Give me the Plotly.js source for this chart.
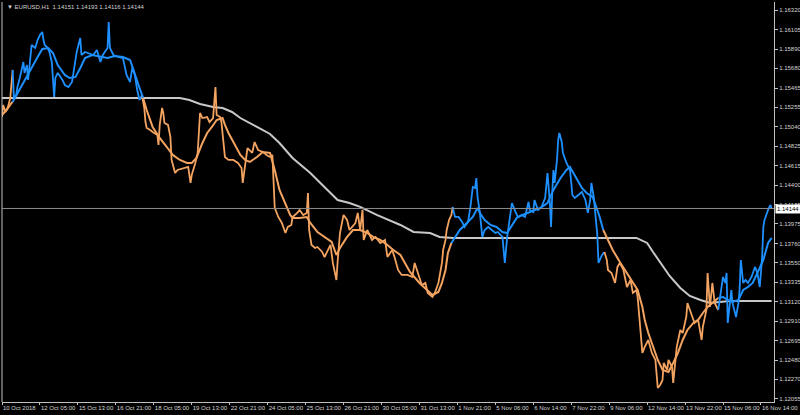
<!DOCTYPE html>
<html><head><meta charset="utf-8">
<script src="https://cdn.plot.ly/plotly-3.0.1.min.js"></script>
<style>html,body{margin:0;padding:0;background:#000;}#chart{width:800px;height:415px;}</style>
</head><body><div id="chart"></div>
<script>
const symbolTitle = "EURUSD,H1";
const lastBarOHLC = [1.14151, 1.14193, 1.14116, 1.14144];

const xTickBars = [0,32,64,96,128,160,192,224,256,288,320,352,384,416,448,480,512,544,576,608,640];
const xTickLabels = ["10 Oct 2018","12 Oct 05:00","15 Oct 13:00","16 Oct 21:00","18 Oct 05:00","19 Oct 13:00","22 Oct 21:00","24 Oct 05:00","25 Oct 13:00","26 Oct 21:00","30 Oct 05:00","31 Oct 13:00","1 Nov 21:00","5 Nov 06:00","6 Nov 14:00","7 Nov 22:00","9 Nov 06:00","12 Nov 14:00","13 Nov 22:00","15 Nov 06:00","16 Nov 14:00"];
const yTickValues = [1.16320,1.16105,1.15890,1.15680,1.15465,1.15255,1.15040,1.14825,1.14615,1.14400,1.14185,1.13975,1.13760,1.13550,1.13335,1.13120,1.12910,1.12695,1.12480,1.12270,1.12055];

// hourly price path (bar index, price)
const priceBar = [0,1,3,5,7,8,9,10,12,13,
15,17,18,19,21,22,24,25,28,30,
32,34,35,36,38,40,42,43,44,45,
47,51,53,56,59,60,63,66,67,70,
72,77,80,83,85,89,90,91,94,98,
102,105,108,110,112,114,116,118,120,121,
122,125,127,131,132,133,135,136,137,140,
142,143,146,148,153,157,159,160,163,165,
167,169,173,175,178,180,181,184,185,188,
191,195,199,202,203,205,207,211,213,216,
220,223,226,228,229,230,233,236,239,241,
244,245,249,251,254,257,258,259,261,264,
266,270,272,275,277,279,282,283,285,288,
291,293,298,300,302,304,305,308,312,315,
319,323,325,329,331,334,337,342,346,348,
351,354,357,359,363,365,368,371,372,374,
375,377,379,380,382,385,388,390,393,395,
397,399,400,401,403,405,407,410,413,416,
418,422,423,424,426,427,428,430,433,435,
438,441,444,445,448,449,452,455,458,459,
460,462,463,464,465,466,468,469,470,472,
473,476,479,481,483,486,489,492,494,496,
497,499,501,502,503,506,508,510,511,514,
517,519,521,524,527,530,532,535,536,538,
540,542,545,548,551,553,555,557,558,561,
562,565,566,569,572,574,577,578,582,584,
587,590,591,594,595,597,599,601,604,607,
608,610,611,612,614,615,616,619,621,622,
623,625,627,629,632,635,637,639,641,642,
643,645,646,648,649];
const priceClose = [1.15147,1.15279,1.15202,1.15257,1.15356,1.15531,1.15663,1.15356,1.15388,1.15476,
1.15575,1.15684,1.15750,1.15630,1.15717,1.15553,1.15827,1.15937,1.15904,1.15991,
1.16046,1.16079,1.15991,1.15937,1.15915,1.15860,1.15750,1.15531,1.15367,1.15575,
1.15630,1.15553,1.15498,1.15476,1.15531,1.15608,1.15860,1.16013,1.15827,1.15860,
1.15849,1.15827,1.15882,1.15750,1.15827,1.15904,1.16189,1.15904,1.15827,1.15805,
1.15794,1.15608,1.15531,1.15695,1.15608,1.15443,1.15334,1.15388,1.15246,1.15092,
1.15027,1.15005,1.14983,1.14950,1.14840,1.15060,1.15246,1.15191,1.15081,1.15060,
1.14928,1.14676,1.14533,1.14566,1.14588,1.14599,1.14424,1.14511,1.14643,1.14753,
1.15191,1.15136,1.15147,1.15092,1.15136,1.15476,1.15169,1.15147,1.15092,1.14709,
1.14676,1.14676,1.14643,1.14588,1.14424,1.14599,1.14807,1.14753,1.14873,1.14785,
1.14764,1.14731,1.14709,1.14731,1.14457,1.14150,1.14051,1.13985,1.13875,1.13941,
1.13963,1.14051,1.14095,1.14128,1.14073,1.14095,1.14314,1.13908,1.13744,1.13711,
1.13722,1.13667,1.13612,1.13689,1.13744,1.13547,1.13360,1.13557,1.13875,1.14073,
1.14018,1.13908,1.13985,1.14095,1.13908,1.14128,1.13799,1.13908,1.13799,1.13832,
1.13766,1.13799,1.13612,1.13689,1.13612,1.13470,1.13415,1.13415,1.13393,1.13547,
1.13437,1.13305,1.13327,1.13218,1.13174,1.13218,1.13327,1.13547,1.13689,1.13799,
1.13908,1.14018,1.14073,1.14161,1.14051,1.14051,1.13996,1.13941,1.13996,1.14161,
1.14380,1.14369,1.14478,1.14270,1.14095,1.13832,1.13908,1.13941,1.13908,1.13875,
1.13886,1.13832,1.13689,1.13547,1.13832,1.13941,1.14018,1.14204,1.14106,1.14051,
1.14073,1.14051,1.14215,1.14128,1.14106,1.14237,1.14128,1.14161,1.14259,1.14457,
1.14533,1.14204,1.13941,1.14314,1.14566,1.14424,1.14676,1.14895,1.14972,1.14873,
1.14753,1.14643,1.14566,1.14292,1.14259,1.14292,1.14325,1.14237,1.14095,1.14237,
1.14424,1.14270,1.14018,1.13854,1.13547,1.13634,1.13667,1.13579,1.13470,1.13437,
1.13327,1.13503,1.13547,1.13470,1.13283,1.13360,1.13218,1.13250,1.13174,1.12845,
1.12560,1.12626,1.12702,1.12560,1.12483,1.12176,1.12209,1.12264,1.12450,1.12373,
1.12483,1.12406,1.12231,1.12626,1.12812,1.12779,1.12954,1.13108,1.12954,1.12889,
1.12922,1.12702,1.12845,1.13031,1.13437,1.13064,1.13327,1.13108,1.13031,1.13283,
1.13393,1.13327,1.13437,1.12889,1.13141,1.13250,1.13108,1.12954,1.13108,1.13250,
1.13579,1.13327,1.13360,1.13327,1.13393,1.13503,1.13437,1.13283,1.13612,1.13941,
1.14018,1.14095,1.14128,1.14182,1.14144];

// fast smoothed average (coloured line)
const maBar = [0,4,8,9,13,18,24,30,34,39,
43,47,53,57,62,66,70,76,83,89,
95,102,108,112,116,119,122,127,133,139,
144,150,156,160,164,169,173,177,181,186,
188,191,197,201,205,209,215,220,226,230,
234,239,243,245,251,257,260,266,272,278,
282,285,291,296,302,308,313,319,325,330,
336,344,352,358,363,368,371,374,376,379,
382,386,392,397,401,403,407,412,417,422,
426,430,434,439,445,454,460,465,471,476,
479,483,489,493,498,500,504,507,510,515,
521,527,532,536,540,542,545,549,553,557,
562,566,570,574,578,583,587,591,595,600,
604,608,612,616,621,625,629,633,637,642,
646,649];
const maValue = [1.15169,1.15224,1.15301,1.15312,1.15410,1.15520,1.15663,1.15805,1.15893,1.15904,
1.15849,1.15717,1.15608,1.15575,1.15586,1.15684,1.15794,1.15827,1.15805,1.15794,
1.15816,1.15805,1.15772,1.15630,1.15465,1.15356,1.15224,1.15038,1.14917,1.14818,
1.14731,1.14676,1.14643,1.14643,1.14698,1.14862,1.14972,1.15038,1.15114,1.15136,
1.15060,1.14972,1.14818,1.14731,1.14676,1.14654,1.14709,1.14764,1.14753,1.14566,
1.14347,1.14204,1.14073,1.14040,1.14040,1.14051,1.13985,1.13886,1.13832,1.13777,
1.13634,1.13711,1.13832,1.13908,1.13908,1.13875,1.13832,1.13799,1.13744,1.13689,
1.13634,1.13448,1.13327,1.13250,1.13196,1.13229,1.13327,1.13470,1.13656,1.13766,
1.13821,1.13908,1.13985,1.14051,1.14150,1.14095,1.14018,1.13963,1.13941,1.13886,
1.13875,1.13963,1.14040,1.14073,1.14106,1.14150,1.14204,1.14347,1.14478,1.14566,
1.14599,1.14511,1.14369,1.14314,1.14270,1.14204,1.14051,1.13908,1.13821,1.13689,
1.13557,1.13437,1.13327,1.13250,1.13064,1.12922,1.12779,1.12626,1.12483,1.12373,
1.12351,1.12450,1.12560,1.12702,1.12812,1.12889,1.12922,1.12998,1.13064,1.13119,
1.13163,1.13174,1.13141,1.13119,1.13141,1.13250,1.13283,1.13327,1.13437,1.13579,
1.13766,1.13821];

// slow baseline (grey line)
const baseBar = [0,150,158,167,178,186,194,201,215,226,234,245,260,274,283,293,302,316,336,347,361,369,380,535,544,549,555,563,572,580,589,597,605,614,649];
const baseValue = [1.15356,1.15356,1.15334,1.15290,1.15257,1.15246,1.15202,1.15136,1.15038,1.14961,1.14862,1.14698,1.14533,1.14347,1.14237,1.14204,1.14161,1.14073,1.13963,1.13886,1.13875,1.13832,1.13821,1.13821,1.13766,1.13667,1.13557,1.13404,1.13272,1.13185,1.13141,1.13108,1.13119,1.13130,1.13130];

// trend regimes (first bar of each regime)
const trendStartBar = [0,10,120,382,510,607];
const trendDir = ["down","up","down","up","down","up"];

const COLORS = {up:"#1E90FF", down:"#F4A460"};
const TXT = "#d4d4d4";
const FONT = "Liberation Sans, Arial, sans-serif";

function segment(xs, ys, a, b) {
  const ox = [], oy = [];
  let prev = -1;
  for (let i = 0; i < xs.length; i++) {
    if (xs[i] < a) prev = i;
    if (xs[i] >= a && xs[i] < b) { ox.push(xs[i]); oy.push(ys[i]); }
  }
  if (prev >= 0 && a > 0) { ox.unshift(xs[prev]); oy.unshift(ys[prev]); }
  return {x: ox, y: oy};
}

const traces = [];
traces.push({x: baseBar, y: baseValue, type: "scatter", mode: "lines",
  line: {color: "#C8C8C8", width: 2}, hoverinfo: "skip"});
for (let k = 0; k < trendStartBar.length; k++) {
  const a = trendStartBar[k];
  const b = k + 1 < trendStartBar.length ? trendStartBar[k + 1] : 1e9;
  const col = COLORS[trendDir[k]];
  const p = segment(priceBar, priceClose, a, b);
  traces.push({x: p.x, y: p.y, type: "scatter", mode: "lines",
    line: {color: col, width: 1.8}, hoverinfo: "skip"});
}
for (let k = 0; k < trendStartBar.length; k++) {
  const a = trendStartBar[k];
  const b = k + 1 < trendStartBar.length ? trendStartBar[k + 1] : 1e9;
  const col = COLORS[trendDir[k]];
  const m = segment(maBar, maValue, a, b);
  traces.push({x: m.x, y: m.y, type: "scatter", mode: "lines",
    line: {color: col, width: 2}, hoverinfo: "skip"});
}

const lastClose = priceClose[priceClose.length - 1];
const header = "\u25BC " + symbolTitle + "\u00a0\u00a0" + lastBarOHLC.map(v => v.toFixed(5)).join(" ");

const layout = {
  width: 800, height: 415,
  paper_bgcolor: "#000", plot_bgcolor: "#000",
  margin: {l: 2, r: 26, t: 2, b: 13},
  showlegend: false,
  font: {family: FONT, size: 6, color: TXT},
  xaxis: {
    range: [0, 651], tickvals: xTickBars, ticktext: xTickLabels,
    ticks: "outside", ticklen: 2, tickcolor: "#c0c0c0", tickwidth: 1,
    tickangle: 0, automargin: false,
    ticklabelposition: "outside right",
    tickfont: {family: FONT, size: 6, color: TXT},
    showgrid: false, zeroline: false, showline: true, linecolor: "#c0c0c0", linewidth: 1,
    fixedrange: true
  },
  yaxis: {
    side: "right", range: [1.12022, 1.16408],
    tickvals: yTickValues, ticktext: yTickValues.map(v => v.toFixed(5)),
    ticks: "outside", ticklen: 3, tickcolor: "#c0c0c0", tickwidth: 1,
    automargin: false,
    tickfont: {family: FONT, size: 6, color: TXT},
    showgrid: false, zeroline: false, showline: true, linecolor: "#c0c0c0", linewidth: 1,
    fixedrange: true
  },
  shapes: [
    {type: "line", xref: "paper", yref: "paper", x0: 0, x1: 0, y0: 0, y1: 1,
     line: {color: "#c0c0c0", width: 1}},
    {type: "line", xref: "paper", yref: "y", x0: 0, x1: 1, y0: lastClose, y1: lastClose,
     line: {color: "#8c8c8c", width: 1}}
  ],
  annotations: [
    {xref: "paper", yref: "paper", x: 0, y: 1, xanchor: "left", yanchor: "top",
     xshift: 3, yshift: 0, text: header, showarrow: false,
     font: {family: FONT, size: 6, color: TXT}},
    {xref: "paper", yref: "y", x: 1, y: lastClose, xanchor: "left", yanchor: "middle",
     xshift: 1, yshift: -1, text: lastClose.toFixed(5), showarrow: false, bgcolor: "#ffffff",
     borderpad: 1, font: {family: FONT, size: 6, color: "#000"}}
  ]
};

Plotly.newPlot("chart", traces, layout, {displayModeBar: false, staticPlot: true});
</script>
</body></html>
